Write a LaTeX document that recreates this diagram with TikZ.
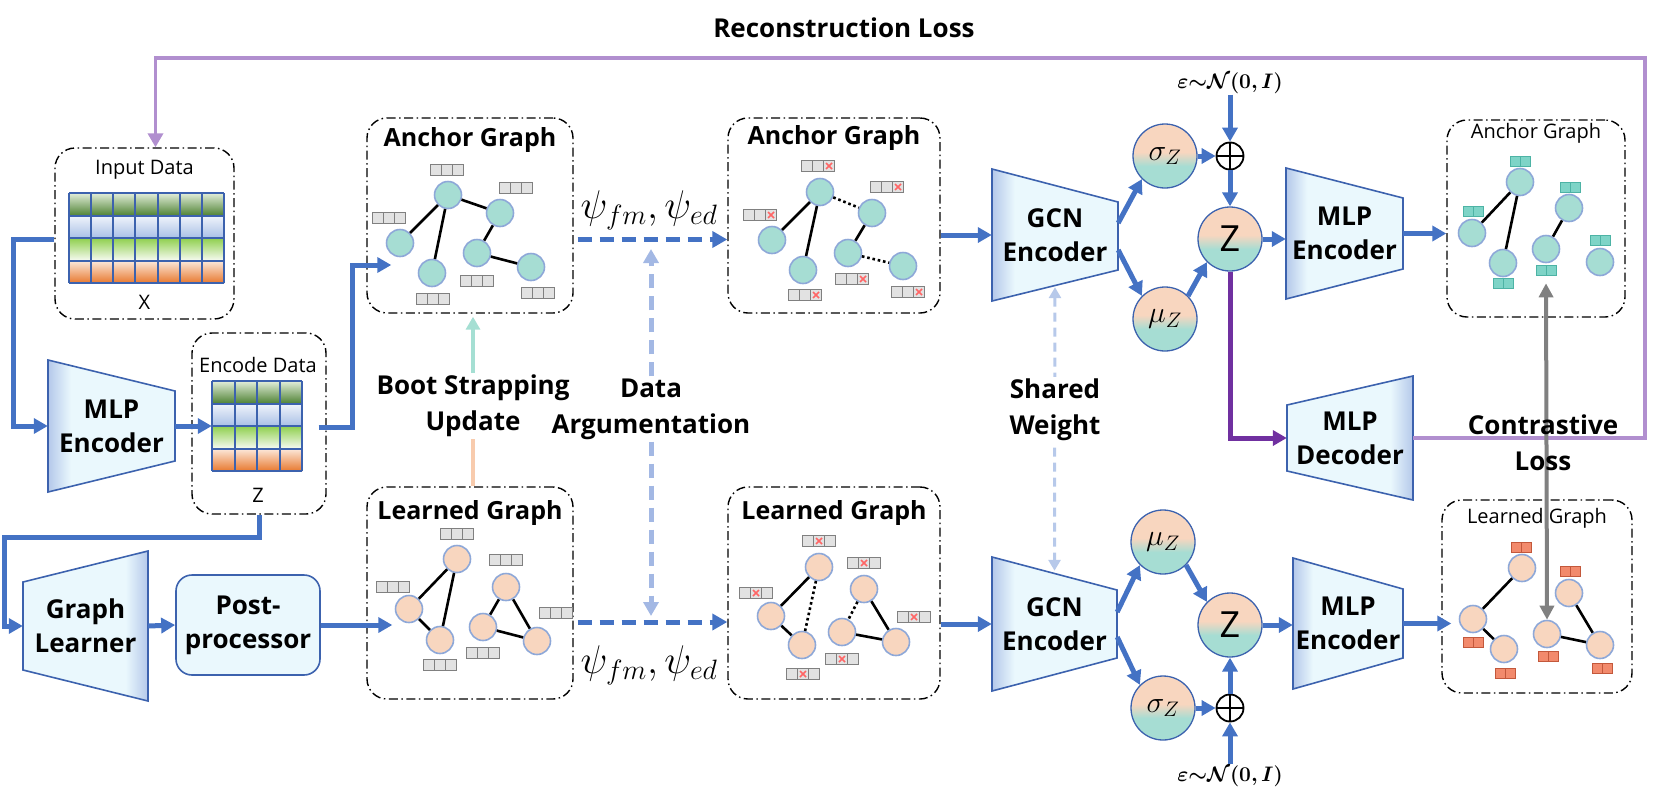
\RequirePackage{fix-cm}
\documentclass[tikz,border=0pt]{standalone}
\usepackage{fontspec}
\setmainfont{Open Sans}
\usepackage{amsmath, amssymb, bm}
\usepackage{tikz}
\usetikzlibrary{arrows.meta, positioning, calc}

\definecolor{flowblue}{HTML}{4472C4}
\definecolor{augblue}{HTML}{A3B8E4}
\definecolor{shareblue}{HTML}{B7C9EA}
\definecolor{reconpurple}{HTML}{B18FCF}
\definecolor{samplepurple}{HTML}{7030A0}
\definecolor{contrastgrey}{HTML}{808080}
\definecolor{trapedge}{HTML}{3C62AE}
\definecolor{trapfill}{HTML}{EAF8FD}
\definecolor{trapdark}{HTML}{B4C8EA}
\definecolor{nodeteal}{HTML}{A6DDD3}
\definecolor{nodepeach}{HTML}{F8D6BF}
\definecolor{nodeedge}{HTML}{8EA8D8}
\definecolor{cellgrey}{HTML}{E2E2E2}
\definecolor{cellborder}{HTML}{808080}
\definecolor{crossred}{HTML}{FF6666}
\definecolor{cellteal}{HTML}{7ED4C7}
\definecolor{tealedge}{HTML}{4DB3A5}
\definecolor{cellorange}{HTML}{F28A6C}
\definecolor{orangeedge}{HTML}{C3583B}
\definecolor{bootpeach}{HTML}{F8CBAD}
\definecolor{bootteal}{HTML}{A5DFD3}
\definecolor{greentop}{HTML}{E2EEDA}
\definecolor{greenbot}{HTML}{4F8234}
\definecolor{bluetop}{HTML}{F0F4FB}
\definecolor{bluebot}{HTML}{A9C0E6}
\definecolor{limetop}{HTML}{8FCF4E}
\definecolor{limebot}{HTML}{F7FBF2}
\definecolor{orangetop}{HTML}{FCE9DC}
\definecolor{orangebot}{HTML}{E8792F}

\pgfdeclarehorizontalshading{trapshade}{100bp}{color(0bp)=(trapdark); color(25bp)=(trapdark); color(34bp)=(trapfill); color(100bp)=(trapfill)}
\pgfdeclareverticalshading{vaeshade}{100bp}{color(0bp)=(nodeteal); color(42bp)=(nodeteal); color(53bp)=(nodepeach); color(100bp)=(nodepeach)}

\begin{document}
\begin{tikzpicture}[
  x=1pt, y=-1pt,
  data box/.style={draw, line width=1.4pt, dash pattern=on 9pt off 3.5pt on 1.5pt off 3.5pt, rounded corners=20pt, inner sep=0},
  box title/.style={font=\fontsize{25}{28}\selectfont\bfseries},
  small title/.style={font=\fontsize{20}{24}\selectfont},
  trap body/.style={draw=trapedge, line width=1.6pt, shading=trapshade},
  trap text/.style={font=\fontsize{26}{34}\selectfont\bfseries, align=center, inner sep=0},
  post box/.style={draw=trapedge, line width=1.6pt, fill=trapfill, rounded corners=16pt, trap text},
  side label/.style={font=\fontsize{26}{36}\selectfont\bfseries, align=center, inner sep=2pt},
  psi label/.style={font=\fontsize{40}{40}\selectfont},
  eps label/.style={font=\fontsize{21}{21}\selectfont, inner sep=1pt},
  table row/.style={inner sep=0, draw=none},
  table grid/.style={draw=trapedge, line width=2pt},
  flow/.style={draw=flowblue, line width=5pt, -{Triangle[length=14pt,width=15pt]}},
  aug flow/.style={draw=flowblue, line width=5pt, dash pattern=on 14pt off 8pt, -{Triangle[length=15pt,width=16pt]}},
  aug half/.style={draw=augblue, line width=5pt, dash pattern=on 14pt off 8pt, -{Triangle[length=14pt,width=15pt]}},
  share both/.style={draw=shareblue, line width=3pt, dash pattern=on 9pt off 6pt, {Triangle[length=11pt,width=12pt]}-{Triangle[length=11pt,width=12pt]}},
  recon line/.style={draw=reconpurple, line width=3.5pt, -{Triangle[length=14pt,width=15pt]}},
  sample line/.style={draw=samplepurple, line width=5pt, -{Triangle[length=14pt,width=15pt]}},
  contrast line/.style={draw=contrastgrey, line width=4pt, {Triangle[length=14pt,width=14pt]}-{Triangle[length=14pt,width=14pt]}},
  boot low/.style={draw=bootpeach, line width=4pt},
  boot up/.style={draw=bootteal, line width=4pt, -{Triangle[length=13pt,width=14pt]}},
  anchor node/.style={circle, draw=nodeedge, line width=1.6pt, fill=nodeteal, minimum size=27pt, inner sep=0},
  learned node/.style={anchor node, fill=nodepeach},
  gedge/.style={line width=2.6pt},
  gdrop/.style={line width=2.6pt, dash pattern=on 2.6pt off 2.8pt},
  feat cell/.style={draw=cellborder, line width=1.3pt, fill=cellgrey},
  teal cell/.style={draw=tealedge, line width=1pt, fill=cellteal},
  orange cell/.style={draw=orangeedge, line width=1pt, fill=cellorange},
  cross mark/.style={draw=crossred, line width=1.6pt},
  vae node/.style={circle, draw=trapedge, line width=1.3pt, shade, shading=vaeshade, minimum size=64pt, inner sep=0, font=\fontsize{30}{30}\selectfont},
  sum node/.style={circle, draw, line width=1.8pt, minimum size=27pt, inner sep=0,
    path picture={\draw[line width=1.8pt] (path picture bounding box.north) -- (path picture bounding box.south)
      (path picture bounding box.west) -- (path picture bounding box.east);}},
  feat/.pic={\foreach \i in {0,1,2} \draw[feat cell] ({-16.5+11*\i},-5.5) rectangle ++(11,11);},
  featx/.pic={\foreach \i in {0,1,2} \draw[feat cell] ({-16.5+11*\i},-5.5) rectangle ++(11,11);
    \draw[cross mark] ({#1-3},-3) -- ({#1+3},3) ({#1-3},3) -- ({#1+3},-3);},
  duo/.pic={\foreach \i in {0,1} \draw[#1] ({-10+10*\i},-5) rectangle ++(10,10);}
]
  \useasboundingbox (0,0) rectangle (1654,801);

  % Input data
  \node[data box, minimum width=179pt, minimum height=171pt] (input box) at (144.5,233.5) {};
  \node[small title] at ($(input box.north)+(0,22)$) {Input Data};
  \foreach \tc/\bc [count=\r from 0] in {greentop/greenbot, bluetop/bluebot, limetop/limebot, orangetop/orangebot}
    \node[table row, top color=\tc, bottom color=\bc, minimum width=155pt, minimum height=22.5pt] at (146.5,{204.25+22.5*\r}) {};
  \foreach \c in {0,...,7}
    \draw[table grid] ({69+155/7*\c},193) -- ++(0,90);
  \foreach \r in {0,...,4}
    \draw[table grid] (69,{193+22.5*\r}) -- ++(155,0);
  \node[small title] (input x) at ($(input box.south)+(0,-17)$) {X};

  % Encode data
  \node[data box, minimum width=134pt, minimum height=181pt] (enc box) at (259,423.5) {};
  \node[small title] at (258,365) {Encode Data};
  \foreach \tc/\bc [count=\r from 0] in {greentop/greenbot, bluetop/bluebot, limetop/limebot, orangetop/orangebot}
    \node[table row, top color=\tc, bottom color=\bc, minimum width=90pt, minimum height=22.5pt] at (257,{392.25+22.5*\r}) {};
  \foreach \c in {0,...,4}
    \draw[table grid] ({212+22.5*\c},381) -- ++(0,90);
  \foreach \r in {0,...,4}
    \draw[table grid] (212,{381+22.5*\r}) -- ++(90,0);
  \node[inner sep=0, minimum size=90pt] (enc table) at (257,426) {};
  \node[small title] (enc z) at (258,495) {Z};

  % MLP encoder, graph learner, post-processor
  \shadedraw[trap body] (48,360) -- (175,391) -- (175,461) -- (48,492) -- cycle;
  \node[trap text, minimum width=127pt, minimum height=132pt] (mlp enc) at (111.5,426) {MLP\\Encoder};
  \shadedraw[trap body, shading angle=180] (23,582) -- (148,551) -- (148,701) -- (23,670) -- cycle;
  \node[trap text, minimum width=125pt, minimum height=150pt] (learner) at (85.5,626) {Graph\\Learner};
  \node[post box, minimum width=144pt, minimum height=100pt] (post) at (248,625) {Post-\\processor};

  % Graph boxes
  \node[data box, minimum width=206pt, minimum height=195pt] (anchor1 box) at (470,215.5) {};
  \node[box title] at ($(anchor1 box.north)+(0,23)$) {Anchor Graph};
  \node[data box, minimum width=212pt, minimum height=195pt] (anchor2 box) at (834,215.5) {};
  \node[box title] at ($(anchor2 box.north)+(0,21)$) {Anchor Graph};
  \node[data box, minimum width=206pt, minimum height=212pt] (learned1 box) at (470,593) {};
  \node[box title] at ($(learned1 box.north)+(0,27)$) {Learned Graph};
  \node[data box, minimum width=212pt, minimum height=212pt] (learned2 box) at (834,593) {};
  \node[box title] at ($(learned2 box.north)+(0,27)$) {Learned Graph};
  \node[data box, minimum width=178pt, minimum height=197pt] (anchor3 box) at (1536,218.5) {};
  \node[small title] at ($(anchor3 box.north)+(0,14)$) {Anchor Graph};
  \node[data box, minimum width=190pt, minimum height=193pt] (learned3 box) at (1537,596.5) {};
  \node[small title] at ($(learned3 box.north)+(0,19)$) {Learned Graph};

  % Anchor graph
  \foreach \n/\x/\y in {a1/448/195, a2/500/213, a3/400/243, a4/432/273, a5/477/253, a6/531/267}
    \node[anchor node] (\n) at (\x,\y) {};
  \foreach \u/\v in {a1/a2, a1/a3, a1/a4, a2/a5, a5/a6}
    \draw[gedge] (\u) -- (\v);
  \foreach \x/\y in {447/170, 516/188, 389/218, 433/299, 477/281, 538/293}
    \pic at (\x,\y) {feat};

  % Augmented anchor graph
  \foreach \n/\x/\y in {b1/820/192, b2/872/213, b3/772/240, b4/803/270, b5/848/253, b6/903/266}
    \node[anchor node] (\n) at (\x,\y) {};
  \foreach \u/\v in {b1/b3, b1/b4, b2/b5}
    \draw[gedge] (\u) -- (\v);
  \foreach \u/\v in {b1/b2, b5/b6}
    \draw[gdrop] (\u) -- (\v);
  \foreach \x/\y in {818/166, 887/187, 760/215, 805/295, 852/279, 908/292}
    \pic at (\x,\y) {featx=11};

  % Learned graph
  \foreach \n/\x/\y in {c1/457/559, c2/409/609, c3/440/640, c4/506/587, c5/483/627, c6/537/641}
    \node[learned node] (\n) at (\x,\y) {};
  \foreach \u/\v in {c1/c2, c1/c3, c2/c3, c4/c5, c4/c6, c5/c6}
    \draw[gedge] (\u) -- (\v);
  \foreach \x/\y in {457/534, 393/587, 440/665, 506/560, 556/613, 483/653}
    \pic at (\x,\y) {feat};

  % Augmented learned graph
  \foreach \n/\x/\y in {d1/819/567, d2/771/616, d3/802/645, d4/864/589, d5/842/632, d6/896/642}
    \node[learned node] (\n) at (\x,\y) {};
  \foreach \u/\v in {d1/d2, d2/d3, d4/d6, d5/d6}
    \draw[gedge] (\u) -- (\v);
  \foreach \u/\v in {d1/d3, d4/d5}
    \draw[gdrop] (\u) -- (\v);
  \foreach \x/\y in {819/541, 864/563, 756/593, 914/617, 842/659, 803/674}
    \pic at (\x,\y) {featx=0};

  % Output anchor graph
  \foreach \n/\x/\y in {e1/1520/182, e2/1472/233, e3/1503/263, e4/1569/208, e5/1546/249, e6/1600/262}
    \node[anchor node] (\n) at (\x,\y) {};
  \foreach \u/\v in {e1/e2, e1/e3, e4/e5}
    \draw[gedge] (\u) -- (\v);
  \foreach \x/\y in {1520/161, 1473/211, 1503/283, 1570/187, 1546/270, 1600/240}
    \pic at (\x,\y) {duo=teal cell};

  % Output learned graph
  \foreach \n/\x/\y in {f1/1522/568, f2/1473/619, f3/1504/649, f4/1569/593, f5/1547/634, f6/1600/645}
    \node[learned node] (\n) at (\x,\y) {};
  \foreach \u/\v in {f1/f2, f2/f3, f4/f6, f5/f6}
    \draw[gedge] (\u) -- (\v);
  \foreach \x/\y in {1521/547, 1473/642, 1505/673, 1570/571, 1548/656, 1602/668}
    \pic at (\x,\y) {duo=orange cell};

  % GCN encoders
  \shadedraw[trap body] (992,169) -- (1118,202) -- (1118,270) -- (992,301) -- cycle;
  \node[trap text, minimum width=126pt, minimum height=132pt] (gcn top) at (1055,235) {GCN\\Encoder};
  \shadedraw[trap body] (992,557) -- (1117,590) -- (1117,658) -- (992,691) -- cycle;
  \node[trap text, minimum width=125pt, minimum height=134pt] (gcn bot) at (1054.5,624) {GCN\\Encoder};

  % MLP encoders / decoder
  \shadedraw[trap body] (1286,168) -- (1403,198) -- (1403,269) -- (1286,299) -- cycle;
  \node[trap text, minimum width=117pt, minimum height=131pt] (mlp top) at (1344.5,233.5) {MLP\\Encoder};
  \shadedraw[trap body] (1293,558) -- (1403,589) -- (1403,658) -- (1293,689) -- cycle;
  \node[trap text, minimum width=110pt, minimum height=131pt] (mlp bot) at (1348,623.5) {MLP\\Encoder};
  \shadedraw[trap body, shading angle=180] (1287,405) -- (1413,376) -- (1413,500) -- (1287,471) -- cycle;
  \node[trap text, minimum width=126pt, minimum height=124pt] (mlp dec) at (1350,438) {MLP\\Decoder};

  % Sampling, top
  \node[vae node] (sigma top) at (1165,156) {$\sigma_Z$};
  \node[sum node] (sum top) at (1230,156) {};
  \node[vae node, font=\fontsize{36}{36}\selectfont] (z top) at (1230,239) {Z};
  \node[vae node] (mu top) at (1165,319) {$\mu_Z$};
  \node[eps label] (eps top) at (1230,83) {$\bm{\varepsilon{\sim}\mathcal{N}(0,I)}$};

  % Sampling, bottom
  \node[vae node] (mu bot) at (1163,542) {$\mu_Z$};
  \node[vae node, font=\fontsize{36}{36}\selectfont] (z bot) at (1230,625) {Z};
  \node[vae node] (sigma bot) at (1163,708) {$\sigma_Z$};
  \node[sum node] (sum bot) at (1230,708) {};
  \node[eps label] (eps bot) at (1230,776) {$\bm{\varepsilon{\sim}\mathcal{N}(0,I)}$};

  % Reconstruction loss
  \draw[recon line] (mlp dec.east) -| (1645,58) -| ($(input box.north)+(11,0)$);
  \node[side label] (recon label) at (844,28) {Reconstruction Loss};

  % Left flow
  \draw[flow] ($(input box.west)+(0,6)$) -| (13,426) -- (mlp enc.west);
  \draw[flow] (mlp enc.east) -- (enc table.west);
  \draw[flow] ($(enc box.east)+(-8,4)$) -| (352,265) -- ($(anchor1 box.west)+(25,49.5)$);
  \draw[flow] (enc box.south) -- ++(0,23) -| (4,626) -- (learner.west);
  \draw[flow] (learner.east) -- (post.west);
  \draw[flow] (post.east) -- ($(learned1 box.west)+(26,32)$);

  % Augmentation
  \coordinate (aug top) at ($(anchor1 box.east)+(4,24)$);
  \coordinate (aug bot) at ($(learned1 box.east)+(4,29)$);
  \draw[aug flow] (aug top) -- (aug top -| anchor2 box.west);
  \draw[aug flow] (aug bot) -- (aug bot -| learned2 box.west);
  \node[psi label] (psi top) at (649,210) {$\psi_{fm},\psi_{ed}$};
  \node[psi label] (psi bot) at (649,665) {$\psi_{fm},\psi_{ed}$};
  \node[side label] (aug label) at (651,409) {Data\\Argumentation};
  \coordinate (aug up) at (651,249);
  \coordinate (aug down) at (651,616);
  \draw[aug half] (aug label.north) -- (aug up);
  \draw[aug half] (aug label.south) -- (aug down);

  % Boot strapping
  \node[side label] (boot label) at (473,406) {Boot Strapping\\Update};
  \draw[boot low] (boot label.south) -- (boot label.south |- learned1 box.north);
  \draw[boot up] (boot label.north) -- ($(boot label.north |- anchor1 box.south)+(0,3)$);

  % Encoders
  \draw[flow] (anchor2 box.east |- gcn top.west) -- (gcn top.west);
  \draw[flow] (learned2 box.east |- gcn bot.west) -- (gcn bot.west);
  \draw[share both] ($(gcn top.south)+(0,-14)$) -- ($(gcn bot.north)+(0,14)$);
  \node[side label, fill=white] (share label) at (1055,410) {Shared\\Weight};

  \draw[flow] ($(gcn top.east)+(0,-12)$) -- (sigma top.south west);
  \draw[flow] ($(gcn top.east)+(0,15)$) -- (mu top.north west);
  \draw[flow] (mu top.north east) -- (z top.south west);
  \draw[flow] (sigma top) -- (sum top);
  \draw[flow] (eps top) -- (sum top);
  \draw[flow] (sum top) -- (z top);
  \draw[flow] (z top.east) -- (z top.east -| mlp top.west);
  \draw[flow] (mlp top.east) -- (mlp top.east -| anchor3 box.west);

  \draw[flow] ($(gcn bot.east)+(0,-12)$) -- (mu bot.south west);
  \draw[flow] ($(gcn bot.east)+(0,13)$) -- (sigma bot.north west);
  \draw[flow] (mu bot.south east) -- (z bot.north west);
  \draw[flow] (sigma bot) -- (sum bot);
  \draw[flow] (eps bot) -- (sum bot);
  \draw[flow] (sum bot) -- (z bot);
  \draw[flow] (z bot.east) -- (z bot.east -| mlp bot.west);
  \draw[flow] (mlp bot.east) -- ($(mlp bot.east -| learned3 box.west)+(10,0)$);

  % Decoder and contrastive loss
  \draw[sample line] (z top.south) |- (mlp dec.west);
  \draw[contrast line] ($(e5.south)+(0,20)$) -- (f5.north);
  \node[side label] (contrast label) at (1543,443) {Contrastive\\Loss};
\end{tikzpicture}
\end{document}
